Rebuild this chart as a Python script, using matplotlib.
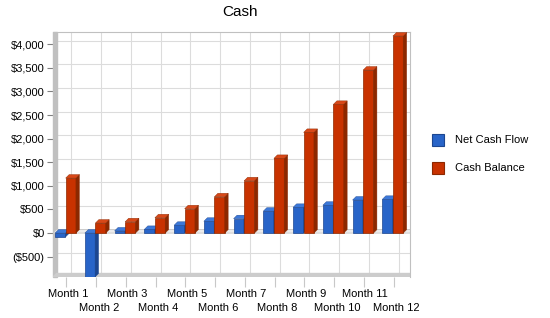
import numpy as np
import matplotlib
matplotlib.use("Agg")
import matplotlib.pyplot as plt
from matplotlib.patches import Polygon, Rectangle

plt.rcParams['font.family'] = ['Liberation Sans', 'DejaVu Sans']

months = [f"Month {i}" for i in range(1, 13)]
net_cash_flow = [-85, -940, 45, 78, 165, 250, 305, 465, 545, 590, 700, 715]
cash_balance = [1165, 212, 240, 324, 515, 769, 1108, 1582, 2133, 2727, 3453, 4174]
series_names = ["Net Cash Flow", "Cash Balance"]
front_cols = ["#2864c8", "#c83200"]
side_cols = ["#1c4690", "#8c2800"]
top_cols = ["#3c78d8", "#d84818"]

YMIN, YMAX = -930, 4260
W, H = 550, 318
L, R, T, B = 53, 410, 32, 277

fig = plt.figure(figsize=(W / 100, H / 100), dpi=100)
ax = fig.add_axes([L / W, 1 - B / H, (R - L) / W, (B - T) / H])
ax.set_xlim(0, 12)
ax.set_ylim(YMIN, YMAX)

px_x = 12 / (R - L)
px_y = (YMAX - YMIN) / (B - T)
dx, dy = 3.5 * px_x, 3.5 * px_y

# back wall grid
for yv in np.arange(-500, 4001, 500):
    ax.plot([dx, 12], [yv + dy, yv + dy], color="#dcdcdc", lw=0.8, zorder=1)
for i in range(12):
    ax.plot([i + 0.5 + dx] * 2, [YMIN + dy, YMAX], color="#dcdcdc", lw=0.8, zorder=1)

# left wall + floor
ax.add_patch(Rectangle((0, YMIN), dx, YMAX - YMIN, color="#c0c0c0", zorder=2, clip_on=False))
ax.add_patch(Polygon([(0, YMIN), (12, YMIN), (12 + dx, YMIN + dy), (dx, YMIN + dy)],
                     color="#cccccc", zorder=2))
# zero plane edge
ax.add_patch(Polygon([(0, 0), (12, 0), (12 + dx, dy), (dx, dy)],
                     facecolor="#ececec", edgecolor="#c4c4c4", lw=0.6, zorder=2))

bw = 0.345
offs = [0.07, 0.07 + bw + 0.01]
for s, vals in enumerate([net_cash_flow, cash_balance]):
    for i, v in enumerate(vals):
        x0 = i + offs[s]
        lo, hi = min(0, v), max(0, v)
        lo_c = max(lo, YMIN)
        z = 5 + s
        ax.add_patch(Rectangle((x0, lo_c), bw, hi - lo_c, facecolor=front_cols[s],
                               edgecolor=side_cols[s], lw=0.5, zorder=z))
        ax.add_patch(Polygon([(x0 + bw, lo_c), (x0 + bw + dx, min(lo_c + dy, hi + dy)),
                              (x0 + bw + dx, hi + dy), (x0 + bw, hi)],
                             facecolor=side_cols[s], edgecolor=side_cols[s], lw=0.3, zorder=z))
        ax.add_patch(Polygon([(x0, hi), (x0 + bw, hi), (x0 + bw + dx, hi + dy), (x0 + dx, hi + dy)],
                             facecolor=top_cols[s], edgecolor=side_cols[s], lw=0.3, zorder=z))

for sp in ["left", "bottom"]:
    ax.spines[sp].set_visible(False)
for sp in ["top", "right"]:
    ax.spines[sp].set_color("#c0c0c0")

ax.set_yticks(np.arange(-500, 4001, 500))
ax.set_yticklabels([f"(${-v:,})" if v < 0 else f"${v:,}" for v in np.arange(-500, 4001, 500)],
                   fontsize=8)
ax.tick_params(axis="y", length=4, color="#808080", pad=2)
ax.set_xticks(np.arange(12) + 0.45)
ax.set_xticklabels([])
ax.tick_params(axis="x", length=7, color="#c8c8c8")
for i, m in enumerate(months):
    ax.text(i + 0.5 + (0.05 if i % 2 else 0), YMIN - (12 if i % 2 == 0 else 26) * px_y, m,
            ha="center", va="top", fontsize=8)

fig.text(240 / W, 1 - 12 / H, "Cash", ha="center", va="center", fontsize=11)

for s, name in enumerate(series_names):
    yc = 140 + s * 28
    fig.patches.append(Rectangle((432 / W, 1 - (yc + 6) / H), 12 / W, 12 / H,
                                 transform=fig.transFigure, facecolor=front_cols[s],
                                 edgecolor=side_cols[s], lw=0.8))
    fig.text(455 / W, 1 - yc / H, name, va="center", fontsize=8)

fig.savefig("out.png", dpi=100)
